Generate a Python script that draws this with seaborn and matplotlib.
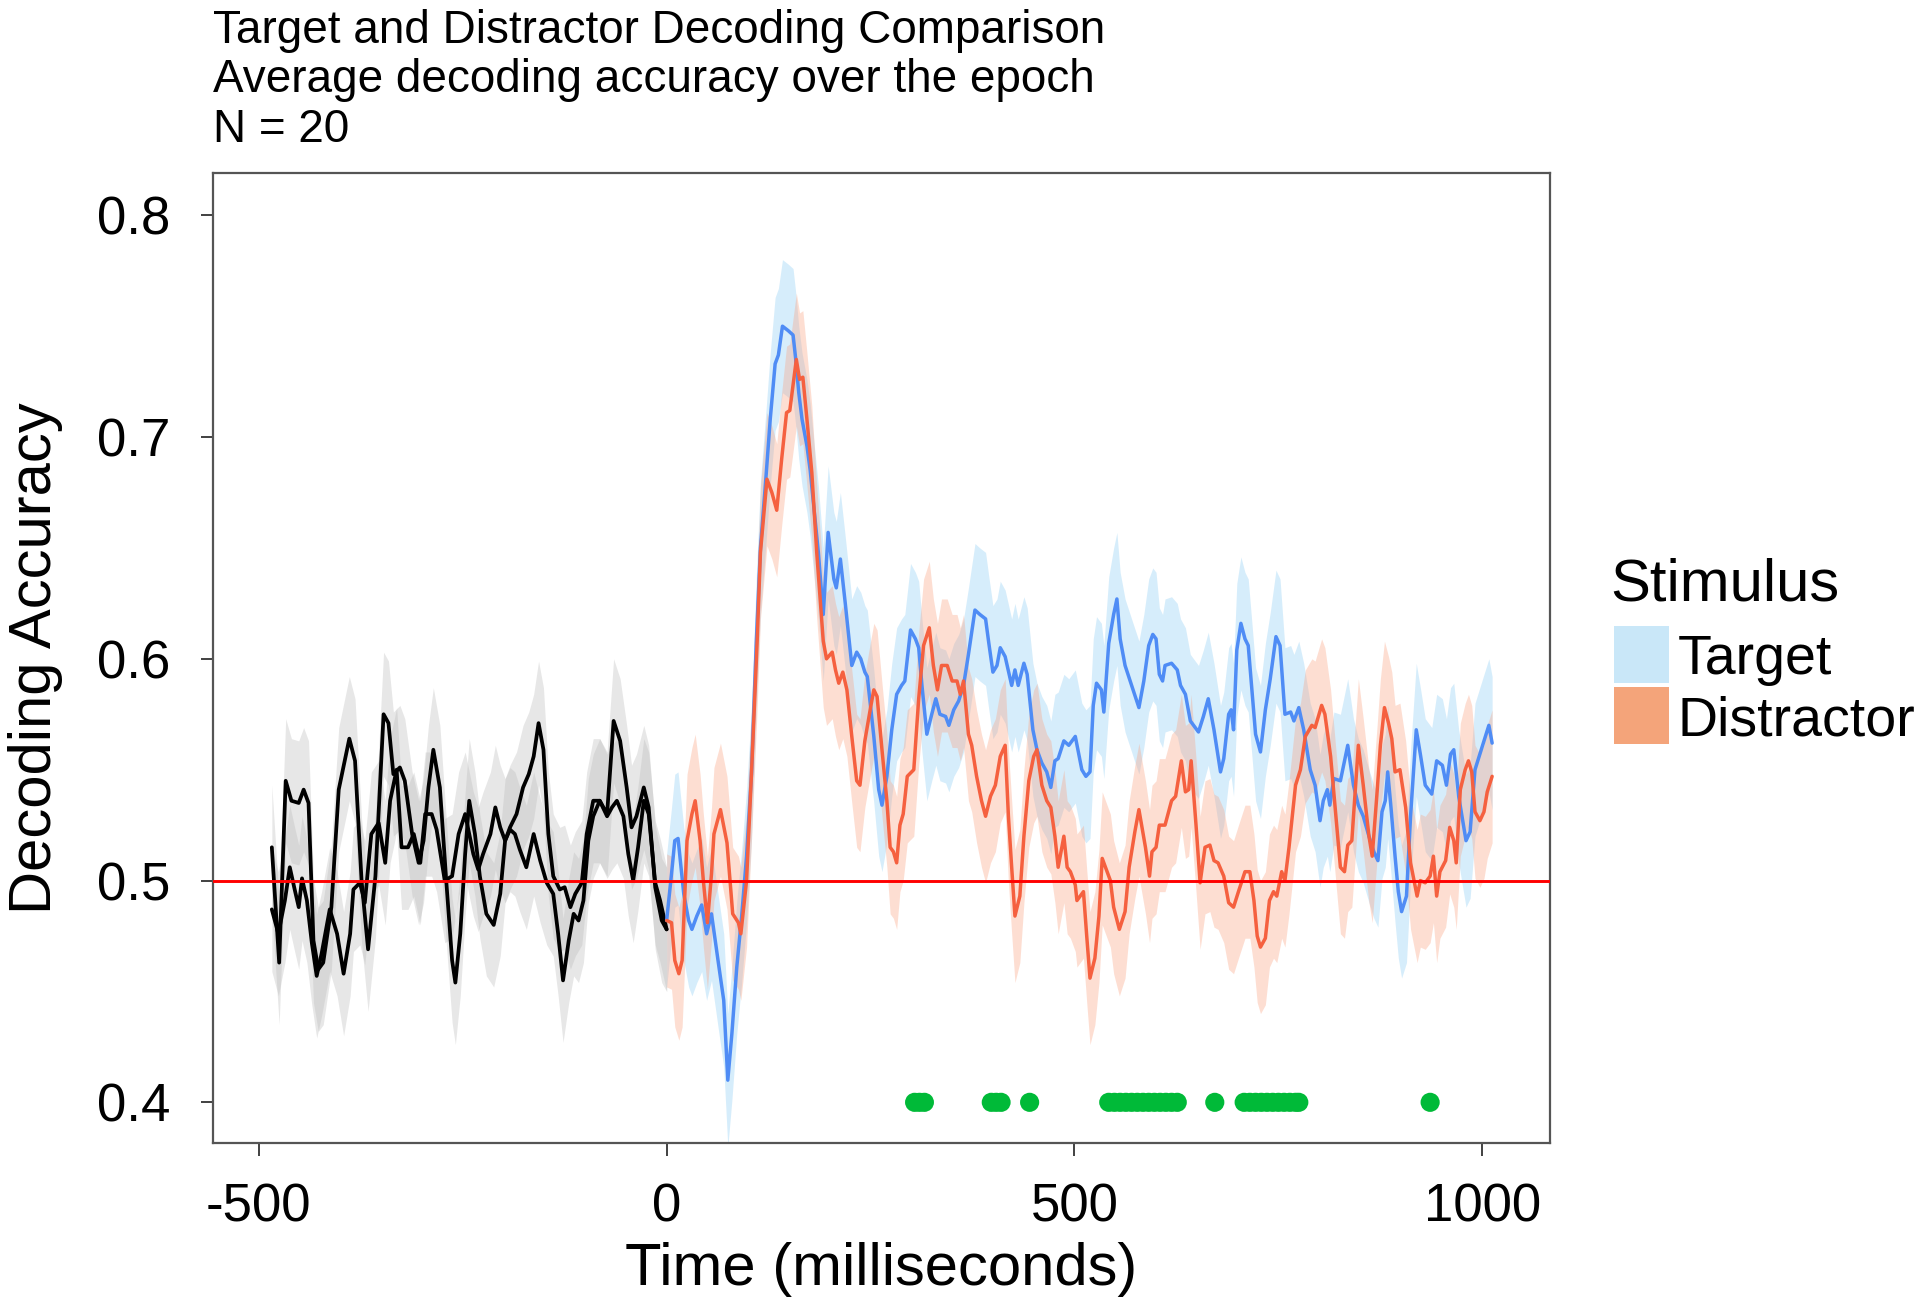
import numpy as np
import pandas as pd
import matplotlib
matplotlib.use("Agg")
import matplotlib.pyplot as plt
from matplotlib.patches import Rectangle
import seaborn as sns

# ----- data -----
# baseline (pre-stimulus) traces, both drawn in black
base_a_time = [-484, -475, -467, -460, -451, -445, -439, -433, -427, -421, -411, -402, -389, -382,
               -374, -366, -357, -347, -341, -335, -327, -321, -312, -304, -298, -292, -286, -278,
               -270, -263, -259, -253, -247, -242, -235, -229, -221, -212, -204, -198, -192, -184,
               -176, -169, -163, -157, -151, -145, -139, -131, -125, -118, -112, -104, -98, -90,
               -82, -73, -65, -57, -49, -43, -37, -28, -22, -14, -6, 0]
base_a_acc = [0.515, 0.463, 0.545, 0.536, 0.535, 0.541, 0.535, 0.473, 0.460, 0.463, 0.488, 0.541,
              0.564, 0.554, 0.500, 0.469, 0.502, 0.575, 0.571, 0.548, 0.551, 0.545, 0.521, 0.508,
              0.518, 0.542, 0.559, 0.542, 0.499, 0.464, 0.454, 0.476, 0.512, 0.536, 0.521, 0.502,
              0.485, 0.480, 0.494, 0.518, 0.524, 0.530, 0.542, 0.548, 0.556, 0.571, 0.559, 0.521,
              0.502, 0.496, 0.497, 0.488, 0.494, 0.499, 0.521, 0.536, 0.536, 0.530, 0.572, 0.563,
              0.542, 0.524, 0.529, 0.542, 0.533, 0.497, 0.482, 0.478]

base_b_time = [-484, -476, -468, -462, -456, -451, -447, -441, -435, -429, -423, -413, -404, -396,
               -388, -384, -376, -370, -362, -353, -345, -339, -331, -325, -317, -310, -302, -296,
               -288, -282, -272, -263, -255, -247, -237, -231, -225, -216, -210, -204, -198, -192,
               -186, -180, -172, -163, -155, -147, -139, -133, -127, -120, -114, -108, -102, -96,
               -90, -82, -73, -67, -61, -53, -47, -41, -35, -28, -22, -14, -8, 0]
base_b_acc = [0.487, 0.476, 0.491, 0.506, 0.496, 0.488, 0.501, 0.491, 0.472, 0.457, 0.467, 0.487,
              0.476, 0.458, 0.476, 0.496, 0.499, 0.490, 0.521, 0.526, 0.508, 0.536, 0.550, 0.515,
              0.515, 0.521, 0.508, 0.530, 0.530, 0.523, 0.500, 0.502, 0.521, 0.530, 0.512, 0.505,
              0.512, 0.521, 0.533, 0.524, 0.518, 0.523, 0.521, 0.514, 0.506, 0.521, 0.509, 0.499,
              0.494, 0.476, 0.455, 0.473, 0.485, 0.482, 0.491, 0.518, 0.529, 0.536, 0.529, 0.533,
              0.536, 0.529, 0.512, 0.500, 0.515, 0.536, 0.530, 0.499, 0.491, 0.478]

target_time = [0, 6, 10, 14, 21, 27, 31, 37, 43, 49, 55, 63, 70, 75, 80, 86, 92, 98, 104, 110,
               115, 122, 127, 133, 137, 142, 149, 155, 158, 162, 166, 172, 176, 180, 186, 192,
               198, 205, 208, 213, 219, 227, 233, 238, 243, 246, 254, 260, 264, 270, 276, 282,
               288, 292, 299, 305, 309, 313, 319, 325, 330, 335, 342, 346, 352, 358, 364, 370,
               378, 384, 391, 395, 400, 405, 409, 415, 423, 427, 431, 438, 442, 449, 454, 460,
               466, 471, 476, 480, 487, 493, 501, 509, 514, 519, 523, 527, 533, 536, 542, 548,
               552, 556, 562, 570, 579, 585, 591, 596, 600, 604, 608, 611, 619, 626, 630, 636,
               642, 652, 658, 664, 671, 679, 683, 689, 692, 695, 699, 704, 709, 713, 718, 722,
               728, 734, 740, 747, 752, 758, 765, 769, 775, 781, 789, 795, 801, 805, 810, 813,
               818, 826, 835, 842, 848, 854, 861, 867, 872, 877, 881, 884, 888, 893, 897, 901,
               907, 912, 919, 924, 930, 938, 944, 951, 956, 961, 965, 971, 975, 980, 985, 991,
               1002, 1008, 1012]
target_acc = [0.482, 0.503, 0.518, 0.519, 0.494, 0.482, 0.478, 0.484, 0.489, 0.476, 0.485, 0.464,
              0.446, 0.410, 0.431, 0.461, 0.484, 0.511, 0.548, 0.608, 0.650, 0.683, 0.708, 0.733,
              0.737, 0.750, 0.748, 0.746, 0.736, 0.720, 0.708, 0.696, 0.685, 0.670, 0.648, 0.620,
              0.657, 0.636, 0.632, 0.645, 0.625, 0.597, 0.603, 0.600, 0.594, 0.592, 0.565, 0.541,
              0.534, 0.547, 0.568, 0.584, 0.588, 0.590, 0.613, 0.609, 0.605, 0.588, 0.566, 0.575,
              0.582, 0.575, 0.574, 0.570, 0.577, 0.581, 0.588, 0.602, 0.622, 0.620, 0.618, 0.607,
              0.594, 0.597, 0.605, 0.601, 0.588, 0.595, 0.588, 0.598, 0.593, 0.568, 0.559, 0.553,
              0.549, 0.542, 0.554, 0.555, 0.563, 0.561, 0.565, 0.550, 0.547, 0.549, 0.579, 0.589,
              0.586, 0.576, 0.607, 0.620, 0.627, 0.609, 0.597, 0.588, 0.578, 0.590, 0.606, 0.611,
              0.609, 0.593, 0.590, 0.597, 0.598, 0.595, 0.588, 0.584, 0.572, 0.567, 0.574, 0.582,
              0.568, 0.549, 0.555, 0.575, 0.577, 0.568, 0.604, 0.616, 0.609, 0.606, 0.584, 0.566,
              0.558, 0.577, 0.591, 0.610, 0.606, 0.575, 0.576, 0.572, 0.578, 0.568, 0.550, 0.543,
              0.527, 0.536, 0.541, 0.534, 0.546, 0.545, 0.561, 0.543, 0.534, 0.529, 0.520, 0.513,
              0.509, 0.531, 0.536, 0.549, 0.533, 0.511, 0.495, 0.486, 0.493, 0.529, 0.568, 0.557,
              0.543, 0.539, 0.554, 0.552, 0.543, 0.557, 0.559, 0.538, 0.529, 0.518, 0.522, 0.550,
              0.563, 0.570, 0.562]

distractor_time = [0, 6, 10, 15, 19, 25, 31, 35, 41, 45, 50, 55, 58, 66, 74, 81, 88, 91, 98, 104,
                   111, 115, 123, 129, 135, 141, 147, 151, 159, 163, 167, 172, 178, 184, 190, 192,
                   196, 203, 207, 211, 216, 221, 227, 233, 237, 243, 250, 254, 258, 264, 270, 274,
                   278, 282, 286, 290, 295, 303, 309, 315, 322, 327, 332, 337, 344, 350, 356, 360,
                   364, 370, 374, 380, 386, 391, 397, 403, 409, 415, 419, 423, 427, 433, 438, 444,
                   450, 454, 460, 466, 471, 476, 480, 487, 491, 495, 501, 503, 511, 515, 519, 525,
                   530, 534, 540, 544, 548, 555, 562, 567, 574, 579, 587, 592, 595, 600, 604, 611,
                   619, 624, 631, 636, 640, 643, 649, 654, 660, 666, 671, 676, 683, 689, 695, 701,
                   709, 715, 720, 724, 728, 734, 739, 744, 748, 754, 758, 763, 771, 777, 783, 791,
                   795, 799, 803, 807, 814, 820, 826, 831, 835, 840, 848, 854, 861, 865, 871, 875,
                   880, 885, 889, 893, 899, 906, 912, 920, 924, 930, 936, 940, 944, 948, 955, 960,
                   965, 968, 973, 979, 983, 987, 991, 997, 1002, 1006, 1012]
distractor_acc = [0.482, 0.481, 0.464, 0.458, 0.464, 0.518, 0.530, 0.536, 0.518, 0.500, 0.481,
                  0.503, 0.521, 0.532, 0.517, 0.485, 0.481, 0.476, 0.500, 0.548, 0.608, 0.648,
                  0.681, 0.675, 0.667, 0.690, 0.711, 0.712, 0.735, 0.726, 0.727, 0.708, 0.684,
                  0.648, 0.618, 0.608, 0.600, 0.603, 0.595, 0.589, 0.594, 0.586, 0.565, 0.545,
                  0.543, 0.563, 0.578, 0.586, 0.583, 0.559, 0.536, 0.515, 0.513, 0.508, 0.525,
                  0.530, 0.547, 0.550, 0.582, 0.606, 0.614, 0.597, 0.586, 0.597, 0.597, 0.590,
                  0.590, 0.584, 0.590, 0.566, 0.561, 0.547, 0.536, 0.529, 0.538, 0.543, 0.556,
                  0.561, 0.529, 0.506, 0.484, 0.493, 0.520, 0.545, 0.556, 0.559, 0.543, 0.536,
                  0.533, 0.520, 0.506, 0.520, 0.506, 0.504, 0.498, 0.491, 0.495, 0.475, 0.456,
                  0.465, 0.484, 0.510, 0.504, 0.500, 0.488, 0.478, 0.486, 0.506, 0.522, 0.532,
                  0.515, 0.502, 0.513, 0.515, 0.525, 0.525, 0.536, 0.538, 0.554, 0.540, 0.541,
                  0.554, 0.525, 0.499, 0.515, 0.516, 0.509, 0.508, 0.502, 0.490, 0.488, 0.495,
                  0.504, 0.504, 0.491, 0.475, 0.470, 0.474, 0.491, 0.495, 0.493, 0.504, 0.500,
                  0.515, 0.543, 0.550, 0.565, 0.570, 0.569, 0.574, 0.579, 0.575, 0.556, 0.531,
                  0.506, 0.504, 0.516, 0.518, 0.561, 0.543, 0.520, 0.511, 0.540, 0.561, 0.578,
                  0.571, 0.564, 0.549, 0.550, 0.533, 0.508, 0.493, 0.500, 0.499, 0.502, 0.511,
                  0.493, 0.504, 0.509, 0.524, 0.518, 0.508, 0.541, 0.550, 0.554, 0.549, 0.531,
                  0.527, 0.531, 0.540, 0.547]

# half-width of the shaded bands (standard error)
se_base = 0.028
se_target = 0.03
se_distractor = 0.03

# time points flagged as significant (green dots at 0.4)
sig_times = [304, 310, 316, 398, 404, 410, 445, 542, 549, 556, 563, 570, 577, 584, 591, 598,
             605, 612, 619, 626, 672, 708, 715, 722, 729, 736, 743, 750, 757, 764, 771, 775, 936]

x_ticks = [-500, 0, 500, 1000]
y_ticks = [0.4, 0.5, 0.6, 0.7, 0.8]

title_lines = ["Target and Distractor Decoding Comparison",
               "Average decoding accuracy over the epoch",
               "N = 20"]

# ----- styling -----
sns.set_style("white")
plt.rcParams["font.family"] = ["Liberation Sans", "DejaVu Sans"]
plt.rcParams["text.color"] = "black"

blue_line = "#4F8CF5"
red_line = "#F5603F"
blue_band = "#9AD3F5"
red_band = "#FBA280"

base_df = pd.concat([
    pd.DataFrame({"time": base_a_time, "accuracy": base_a_acc, "trace": "a"}),
    pd.DataFrame({"time": base_b_time, "accuracy": base_b_acc, "trace": "b"}),
])
post_df = pd.concat([
    pd.DataFrame({"time": target_time, "accuracy": target_acc, "Stimulus": "Target"}),
    pd.DataFrame({"time": distractor_time, "accuracy": distractor_acc, "Stimulus": "Distractor"}),
])

fig = plt.figure(figsize=(19.32, 13.04), dpi=100)
ax = fig.add_axes([0.1103, 0.1232, 0.692, 0.7445])

# shaded bands
for t, v in [(base_a_time, base_a_acc), (base_b_time, base_b_acc)]:
    v = np.array(v)
    ax.fill_between(t, v - se_base, v + se_base, color="#bbbbbb", alpha=0.35, lw=0, zorder=1)
ax.fill_between(target_time, np.array(target_acc) - se_target, np.array(target_acc) + se_target,
                color=blue_band, alpha=0.4, lw=0, zorder=1)
ax.fill_between(distractor_time, np.array(distractor_acc) - se_distractor,
                np.array(distractor_acc) + se_distractor, color=red_band, alpha=0.35, lw=0, zorder=1)

# lines
sns.lineplot(data=base_df, x="time", y="accuracy", units="trace", estimator=None, sort=False,
             color="black", linewidth=2.7, ax=ax, zorder=3)
sns.lineplot(data=post_df, x="time", y="accuracy", hue="Stimulus", estimator=None, sort=False,
             palette={"Target": blue_line, "Distractor": red_line}, linewidth=2.5,
             legend=False, ax=ax, zorder=3)

ax.axhline(0.5, color="#FF0000", linewidth=2.1, zorder=4)

sns.scatterplot(x=sig_times, y=[0.4] * len(sig_times), color="#00BA38", s=190,
                edgecolor="none", ax=ax, zorder=5)

ax.set_xlim(-556, 1083)
ax.set_ylim(0.3815, 0.8193)
ax.set_xticks(x_ticks)
ax.set_xticklabels([str(x) for x in x_ticks])
ax.set_yticks(y_ticks)
ax.set_yticklabels([f"{y:.1f}" for y in y_ticks])
ax.tick_params(axis="both", which="major", bottom=True, left=True, direction="out", length=9,
               width=1.3, color="#333333", labelsize=38, labelcolor="black")
ax.tick_params(axis="y", pad=22)
ax.tick_params(axis="x", pad=19)
ax.set_xlabel("")
ax.set_ylabel("")
for s in ax.spines.values():
    s.set_color("#555555")
    s.set_linewidth(1.6)

# axis titles
fig.text(0.4563, 0.0268, "Time (milliseconds)", fontsize=43, ha="center", va="center",
         color="black")
fig.text(0.0186, 0.4955, "Decoding Accuracy", fontsize=43, ha="center", va="center",
         rotation=90, color="black")

# title block
for i, line in enumerate(title_lines):
    fig.text(0.1103, 1 - (43 + 49.5 * i) / 1304, line, fontsize=33, ha="left", va="baseline",
             color="black")

# legend
W, H = 1932, 1304
fig.text(1610 / W, 1 - 601 / H, "Stimulus", fontsize=43, ha="left", va="baseline",
         color="black")
for (label, col), top in zip([("Target", "#C9E7F8"), ("Distractor", "#F4A47A")], [626, 687]):
    fig.add_artist(Rectangle((1614 / W, 1 - (top + 57) / H), 55 / W, 57 / H,
                             transform=fig.transFigure, facecolor=col, edgecolor="none"))
    fig.text(1678 / W, 1 - (top + 48) / H, label, fontsize=40, ha="left", va="baseline",
             color="black")

fig.savefig("out.png", dpi=100)
plt.close(fig)
